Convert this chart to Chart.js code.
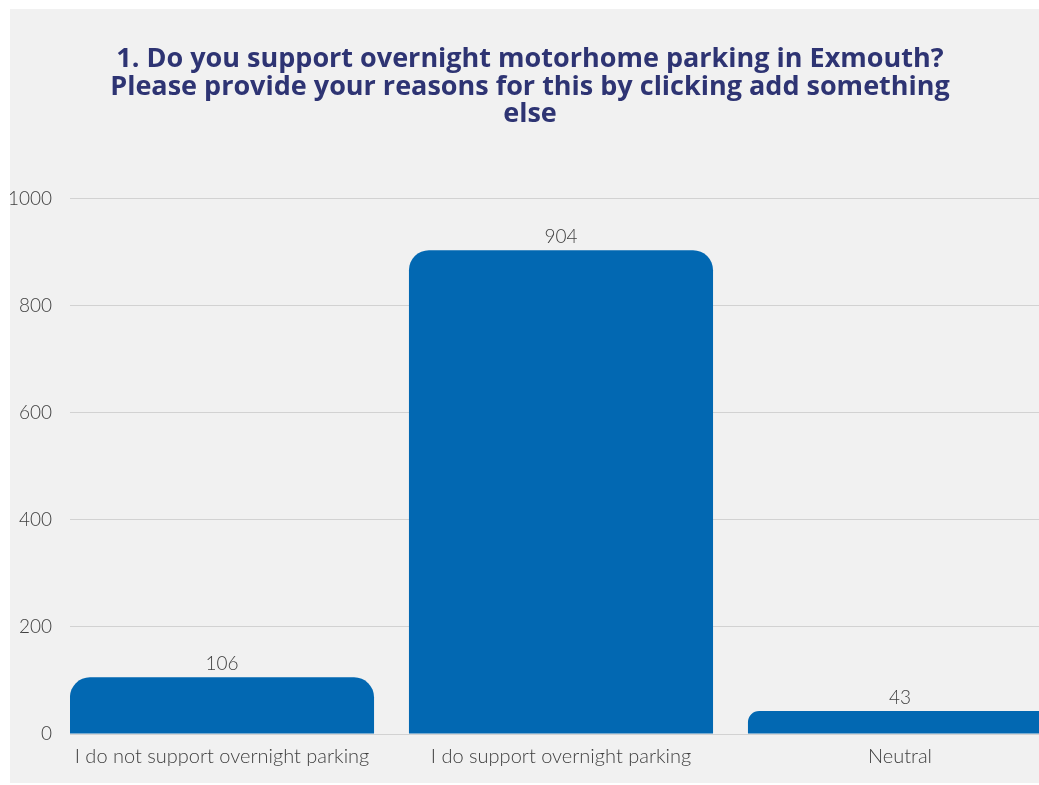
<!DOCTYPE html>
<html>
<head>
<meta charset="utf-8">
<script src="https://cdn.jsdelivr.net/npm/chart.js@4/dist/chart.umd.min.js"></script>
<style>
    html, body { margin: 0; padding: 0; background: #fff; }
    body { width: 1039px; height: 785px; position: relative; overflow: hidden; }
    .painel {
        position: absolute; left: 10px; top: 9px; width: 1029px; height: 774px;
        background: #f1f1f1; overflow: hidden;
    }
    .painel canvas { position: absolute; left: -10px; top: -9px; }
</style>
</head>
<body>
<div class="painel">
    <canvas id="graficoApoio" width="1060" height="785"></canvas>
</div>
<script>
// Respostas à pergunta 1
const categorias = [
    'I do not support overnight parking',
    'I do support overnight parking',
    'Neutral'
];
const respostas = [106, 904, 43];
const ticksEixoY = [0, 200, 400, 600, 800, 1000];
const titulo = [
    '1. Do you support overnight motorhome parking in Exmouth?',
    'Please provide your reasons for this by clicking add something',
    'else'
];

const corBarra = '#0268b2';
const corTexto = '#404040';
const familiaEixo = "Lato, 'Open Sans', sans-serif";
const fonteValores = { family: familiaEixo, weight: '300', size: 19 };
const fonteCategorias = { family: familiaEixo, weight: '300', size: 20 };

// Escreve o valor por cima de cada barra
const rotulosValor = {
    id: 'rotulosValor',
    afterDatasetsDraw(chart) {
        const ctx = chart.ctx;
        const meta = chart.getDatasetMeta(0);
        ctx.save();
        ctx.font = `${fonteValores.weight} ${fonteValores.size}px ${fonteValores.family}`;
        ctx.fillStyle = corTexto;
        ctx.textAlign = 'center';
        ctx.textBaseline = 'alphabetic';
        meta.data.forEach((barra, i) => {
            ctx.fillText(String(respostas[i]), barra.x, barra.y - 7);
        });
        ctx.restore();
    }
};

new Chart(document.getElementById('graficoApoio'), {
    type: 'bar',
    data: {
        datasets: [{
            data: categorias.map((c, i) => ({ x: i, y: respostas[i] })),
            backgroundColor: corBarra,
            borderRadius: { topLeft: 20, topRight: 20 },
            borderSkipped: 'start',
            categoryPercentage: 1,
            barPercentage: 0.897
        }]
    },
    options: {
        responsive: false,
        animation: false,
        layout: { padding: 0 },
        plugins: {
            legend: { display: false },
            tooltip: { enabled: false },
            title: {
                display: true,
                text: titulo,
                color: '#2e3473',
                font: { family: "'Open Sans', Roboto, sans-serif", weight: 'bold', size: 27, lineHeight: 1.01 },
                padding: { top: 46, bottom: 71 }
            }
        },
        scales: {
            x: {
                type: 'linear',
                offset: false,
                bounds: 'data',
                min: -0.4484,
                max: 2.472,
                grid: { display: false },
                border: { display: false },
                afterBuildTicks: (eixo) => {
                    eixo.ticks = categorias.map((c, i) => ({ value: i }));
                },
                afterFit: (eixo) => { eixo.height = 51; },
                ticks: {
                    autoSkip: false,
                    maxRotation: 0,
                    padding: 3,
                    color: corTexto,
                    font: fonteCategorias,
                    callback: (v) => categorias[v] ?? ''
                }
            },
            y: {
                min: 0,
                max: 1000,
                afterBuildTicks: (eixo) => {
                    eixo.ticks = ticksEixoY.map(v => ({ value: v }));
                },
                afterFit: (eixo) => { eixo.width = 70; },
                grid: { color: '#d2d2d2', lineWidth: 1, drawTicks: false },
                border: { display: false },
                ticks: {
                    padding: 18,
                    color: corTexto,
                    font: fonteValores,
                    callback: (v) => String(v)
                }
            }
        }
    },
    plugins: [rotulosValor]
});
</script>
</body>
</html>
